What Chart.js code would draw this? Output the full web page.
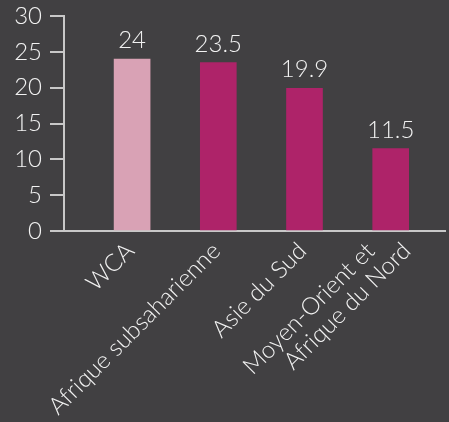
<!DOCTYPE html>
<html>
<head>
<meta charset="utf-8">
<script src="https://cdn.jsdelivr.net/npm/chart.js@4.4.1/dist/chart.umd.min.js"></script>
<style>
  html, body { margin: 0; padding: 0; background: #414042; }
  #wrap { width: 449px; height: 422px; position: relative; }
</style>
</head>
<body>
<div id="wrap"><canvas id="c"></canvas></div>
<script>
// Regions and their values
const categories = ['WCA', 'Afrique subsaharienne', 'Asie du Sud', ['Moyen-Orient et', 'Afrique du Nord']];
const values = [24, 23.5, 19.9, 11.5];
const barColors = ['#d9a2b5', '#ae2369', '#ae2369', '#ae2369'];
const yTicks = [0, 5, 10, 15, 20, 25, 30];

const FONT = 'Lato';
const TEXT = '#f2f2f2';
const AXIS = '#c8c8c8';

// Value printed above each bar
const valueLabels = {
  id: 'valueLabels',
  afterDatasetsDraw(chart) {
    const ctx = chart.ctx;
    const meta = chart.getDatasetMeta(0);
    ctx.save();
    ctx.font = `300 24px ${FONT}`;
    ctx.fillStyle = TEXT;
    ctx.textAlign = 'center';
    ctx.textBaseline = 'alphabetic';
    meta.data.forEach((bar, i) => {
      ctx.fillText(String(values[i]), bar.x, bar.y - 11);
    });
    ctx.restore();
  }
};

// Rotated category names; lines of a two-line name sit side by side, centred on the tick
const categoryLabels = {
  id: 'categoryLabels',
  afterDraw(chart) {
    const ctx = chart.ctx;
    const xs = chart.scales.x;
    const step = 36;
    ctx.save();
    ctx.font = `300 24px ${FONT}`;
    ctx.fillStyle = TEXT;
    ctx.textAlign = 'right';
    ctx.textBaseline = 'middle';
    categories.forEach((cat, i) => {
      const lines = Array.isArray(cat) ? cat : [cat];
      const px = xs.getPixelForValue(i);
      lines.forEach((line, k) => {
        const dx = (k - (lines.length - 1) / 2) * step;
        ctx.save();
        ctx.translate(px - 2 + dx, xs.top + 16);
        ctx.rotate(-Math.PI / 4);
        ctx.fillText(line, 0, 0);
        ctx.restore();
      });
    });
    ctx.restore();
  }
};

new Chart(document.getElementById('c'), {
  type: 'bar',
  data: {
    datasets: [{
      data: values.map((v, i) => ({ x: i, y: v })),
      backgroundColor: barColors,
      barThickness: 36,
      borderWidth: 0
    }]
  },
  options: {
    responsive: true,
    maintainAspectRatio: false,
    animation: false,
    devicePixelRatio: 1,
    layout: { padding: { top: 16, right: 4, left: 0, bottom: 0 } },
    plugins: { legend: { display: false }, tooltip: { enabled: false } },
    scales: {
      x: {
        type: 'linear',
        offset: false,
        min: -0.79,
        max: 3.63,
        afterBuildTicks(scale) { scale.ticks = categories.map((_, i) => ({ value: i })); },
        afterFit(scale) {
          scale.height = 191;
          scale.paddingLeft = 0;
          scale.paddingRight = 0;
        },
        grid: { display: false, drawTicks: false },
        border: { display: true, color: AXIS, width: 2 },
        ticks: { display: false }
      },
      y: {
        min: 0,
        max: 30,
        afterBuildTicks(scale) { scale.ticks = yTicks.map(v => ({ value: v })); },
        afterFit(scale) {
          scale.width = 64;
          scale.paddingTop = 0;
          scale.paddingBottom = 0;
        },
        grid: { drawOnChartArea: false, drawTicks: true, tickLength: 14, color: AXIS, lineWidth: 2 },
        border: { display: true, color: AXIS, width: 2 },
        ticks: { color: TEXT, padding: 8, font: { family: FONT, size: 24, weight: '300' } }
      }
    }
  },
  plugins: [valueLabels, categoryLabels]
});
</script>
</body>
</html>
